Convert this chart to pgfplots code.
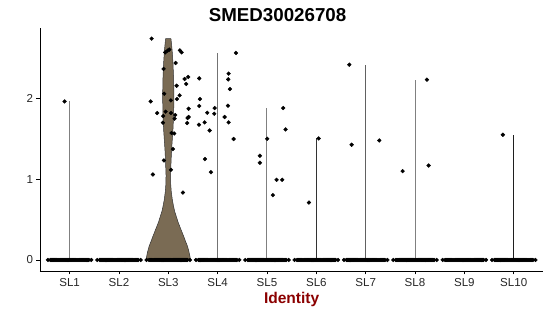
\documentclass[border=0pt]{standalone}
\usepackage{fontspec}
\setmainfont{Liberation Sans}
\usepackage{pgfplots}
\pgfplotsset{compat=1.18}
\usepackage{pgfplotstable}
\definecolor{violinfill}{RGB}{122,107,84}
\definecolor{identred}{RGB}{139,0,0}

% scattered non-zero expression points
\pgfplotstableread{
x y
0.899 1.966
2.662 2.745
2.938 2.575
2.986 2.596
3.019 2.609
3.235 2.600
3.270 2.575
3.148 2.443
2.905 2.369
3.331 2.245
3.404 2.270
3.363 2.183
3.169 2.161
2.917 2.062
3.229 2.041
3.175 1.996
3.053 1.979
2.642 1.966
3.412 1.876
2.775 1.822
2.946 1.839
3.053 1.822
2.897 1.785
3.140 1.798
3.128 1.752
3.412 1.773
3.390 1.760
2.891 1.702
3.383 1.698
3.067 1.574
3.120 1.569
3.094 1.375
2.911 1.234
3.053 1.118
2.688 1.060
3.296 0.836
3.627 2.252
3.641 1.996
3.627 1.909
3.939 1.884
3.789 1.826
3.931 1.814
4.142 1.773
3.621 1.677
3.737 1.706
3.838 1.606
3.743 1.251
3.864 1.089
4.223 2.311
4.215 2.240
4.249 2.120
4.209 1.913
4.223 1.706
4.324 1.500
4.371 2.568
5.328 1.884
5.377 1.619
5.004 1.503
4.856 1.292
4.856 1.205
5.195 0.994
5.308 0.994
5.120 0.804
6.047 1.507
5.850 0.712
6.668 2.422
6.716 1.429
7.276 1.482
8.241 2.236
7.749 1.102
8.276 1.171
9.781 1.553
}\ptsdata

% horizontal jitter offsets of the many zero-valued cells
\pgfplotstableread{
dx y
-0.44 0
-0.39 0
-0.37 0
-0.35 0
-0.33 0
-0.31 0
-0.29 0
-0.27 0
-0.25 0
-0.23 0
-0.21 0
-0.19 0
-0.17 0
-0.15 0
-0.13 0
-0.11 0
-0.09 0
-0.07 0
-0.05 0
-0.03 0
-0.01 0
0.01 0
0.03 0
0.05 0
0.07 0
0.09 0
0.11 0
0.13 0
0.15 0
0.17 0
0.19 0
0.21 0
0.23 0
0.25 0
0.27 0
0.29 0
0.31 0
0.33 0
0.35 0
0.37 0
0.39 0
0.44 0
}\zerojit

\begin{document}
\begin{tikzpicture}
\begin{axis}[
  at={(40bp,45bp)}, anchor=south west,
  scale only axis, width=503.3bp, height=243bp,
  xmin=0.4, xmax=10.6, ymin=-0.137, ymax=2.877,
  axis lines=left,
  axis line style={-, black, line width=0.7bp},
  xtick={1,2,3,4,5,6,7,8,9,10},
  xticklabels={SL1,SL2,SL3,SL4,SL5,SL6,SL7,SL8,SL9,SL10},
  ytick={0,1,2},
  tick align=outside,
  major tick length=3.5bp,
  tick style={black, line width=0.6bp},
  ticklabel style={font=\fontsize{11.6}{13}\selectfont, text=black!85},
  /pgf/number format/assume math mode=true,
  every axis title shift=0pt,
  title={SMED30026708},
  title style={font=\bfseries\fontsize{18.8}{22}\selectfont, at={(0.472,1.026)}, anchor=base},
  xlabel={Identity},
  xlabel style={font=\bfseries\fontsize{15.6}{18}\selectfont, text=identred, at={(0.5,-0.133)}, anchor=base},
  clip=false,
]
% thin violins (single line)
\addplot[draw=black!50, line width=1bp] coordinates {(1,0) (1,1.966)};
\addplot[draw=black!55, line width=1bp] coordinates {(4,0) (4,2.568)};
\addplot[draw=black!50, line width=1bp] coordinates {(5,0) (5,1.884)};
\addplot[draw=black!80, line width=1bp] coordinates {(6,0) (6,1.507)};
\addplot[draw=black!62, line width=1bp] coordinates {(7,0) (7,2.422)};
\addplot[draw=black!50, line width=1bp] coordinates {(8,0) (8,2.236)};
\addplot[draw=black!88, line width=1bp] coordinates {(10,0) (10,1.553)};
% SL3 violin
\addplot[fill=violinfill, draw=black!80, line width=0.5bp] coordinates {
(2.548,0) (2.560,0.04) (2.580,0.1) (2.611,0.17) (2.650,0.23) (2.686,0.29) (2.725,0.35)
(2.764,0.41) (2.802,0.47) (2.838,0.54) (2.870,0.6) (2.895,0.67) (2.919,0.75) (2.940,0.85)
(2.952,0.95) (2.954,1.05) (2.950,1.12) (2.942,1.25) (2.932,1.37) (2.918,1.5) (2.905,1.62)
(2.892,1.8) (2.885,2.03) (2.892,2.25) (2.905,2.44) (2.922,2.6) (2.938,2.7) (2.946,2.745)
(3.054,2.745) (3.062,2.7) (3.078,2.6) (3.095,2.44) (3.108,2.25) (3.115,2.03) (3.108,1.8)
(3.095,1.62) (3.082,1.5) (3.068,1.37) (3.058,1.25) (3.050,1.12) (3.046,1.05) (3.048,0.95)
(3.060,0.85) (3.081,0.75) (3.105,0.67) (3.130,0.6) (3.162,0.54) (3.198,0.47) (3.236,0.41)
(3.275,0.35) (3.314,0.29) (3.350,0.23) (3.389,0.17) (3.420,0.1) (3.440,0.04) (3.452,0)
} -- cycle;
% zero-valued cells
\pgfplotsinvokeforeach{1,...,10}{
  \addplot[only marks, mark=*, mark size=1.9bp, mark options={draw=none, fill=black}]
    table[x expr=\thisrow{dx}+#1, y=y] {\zerojit};
}
% non-zero cells
\addplot[only marks, mark=*, mark size=1.9bp, mark options={draw=none, fill=black}]
  table[x=x, y=y] {\ptsdata};
\end{axis}
\pgfresetboundingbox
\path[use as bounding box] (0,0) rectangle (550bp,316bp);
\end{tikzpicture}
\end{document}
